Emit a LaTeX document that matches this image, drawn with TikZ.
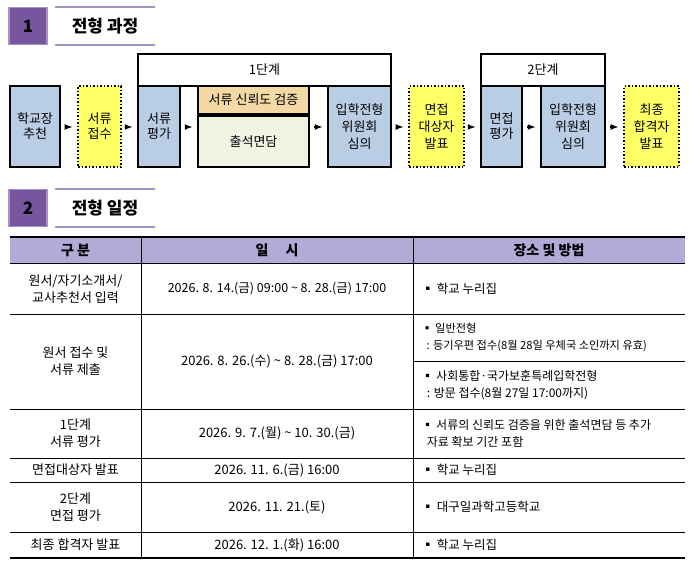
\documentclass[tikz,border=0pt]{standalone}
\usepackage{fontspec}
\setmainfont{Noto Sans CJK KR}
\usetikzlibrary{positioning}
\definecolor{boxblue}{HTML}{B9CDE5}
\definecolor{boxyellow}{HTML}{FFFF66}
\definecolor{boxorange}{HTML}{F4D9A4}
\definecolor{boxgreen}{HTML}{EEF3E2}
\definecolor{darkpurple}{HTML}{76569E}
\definecolor{lightpurple}{HTML}{A592C4}
\definecolor{headfill}{HTML}{B4AAD8}
\begin{document}
\begin{tikzpicture}[x=1pt, y=-1pt, font=\fontsize{13}{15}\selectfont,
    blockbox/.style={draw=black, line width=1.3pt, fill=boxblue, align=center, inner sep=0pt},
    notebox/.style={draw=black, dotted, line width=1.5pt, fill=boxyellow, align=center, inner sep=0pt},
    stagebox/.style={draw=black, line width=1.3pt, fill=white, inner sep=0pt},
    flowarrow/.style={-latex, line width=1.6pt}]
  \useasboundingbox (0,0) rectangle (690,565);
  % section 1
  \node[fill=darkpurple, draw=lightpurple, line width=1.5pt, minimum width=38pt, minimum height=37pt,
        font=\fontsize{17}{17}\selectfont\bfseries] (num1) at (28,26) {1};
  \draw[lightpurple, line width=1.5pt] (55,7) -- (155,7) (55,45) -- (155,45);
  \node[font=\fontsize{17}{17}\selectfont\bfseries] (title1) at (105,26) {전형 과정};
  % stages
  \node[stagebox, minimum width=253pt, minimum height=32pt] (stage1) at (264.5,70) {1단계};
  \node[stagebox, minimum width=124pt, minimum height=32pt] (stage2) at (543,70) {2단계};
  \node[blockbox, minimum width=50pt, minimum height=81pt] (rec) at (35,126.5) {학교장\\추천};
  \node[notebox, minimum width=43pt, minimum height=81pt] (recv) at (99.5,126.5) {서류\\접수};
  \node[blockbox, minimum width=42pt, minimum height=81pt] (doc) at (159,126.5) {서류\\평가};
  \node[blockbox, fill=boxorange, minimum width=111pt, minimum height=28pt] (check) at (253.5,100) {서류 신뢰도 검증};
  \node[blockbox, fill=boxgreen, minimum width=111pt, minimum height=51pt] (meet) at (253.5,141.5) {출석면담};
  \node[blockbox, minimum width=63pt, minimum height=81pt] (board1) at (359.5,126.5) {입학전형\\[2pt]위원회\\[2pt]심의};
  \node[notebox, minimum width=55pt, minimum height=81pt] (pass1) at (436.5,126.5) {면접\\[2pt]대상자\\[2pt]발표};
  \node[blockbox, minimum width=41pt, minimum height=81pt] (intv) at (501.5,126.5) {면접\\평가};
  \node[blockbox, minimum width=64pt, minimum height=81pt] (board2) at (573,126.5) {입학전형\\[2pt]위원회\\[2pt]심의};
  \node[notebox, minimum width=55pt, minimum height=81pt] (final) at (651.5,126.5) {최종\\[2pt]합격자\\[2pt]발표};
  \coordinate (rowmid) at (0,127);
  \foreach \a/\b in {rec/recv, recv/doc, doc/meet, meet/board1, board1/pass1, pass1/intv, intv/board2, board2/final}
    \draw[flowarrow] ([xshift=4pt]\a.east |- rowmid) -- ([xshift=-5pt]\b.west |- rowmid);
  % section 2
  \node[fill=darkpurple, draw=lightpurple, line width=1.5pt, minimum width=38pt, minimum height=37pt,
        font=\fontsize{17}{17}\selectfont\bfseries] (num2) at (28,208) {2};
  \draw[lightpurple, line width=1.5pt] (55,189) -- (155,189) (55,227) -- (155,227);
  \node[font=\fontsize{17}{17}\selectfont\bfseries] (title2) at (105,208) {전형 일정};
  % table
  \fill[headfill] (10,237) rectangle (685,264);
  \draw[line width=1.5pt] (10,237) -- (685,237) (10,558) -- (685,558);
  \draw[line width=0.6pt, double, double distance=1pt] (10,264) -- (685,264);
  \foreach \y in {314,409,458,482,532} \draw[line width=0.6pt] (10,\y) -- (685,\y);
  \draw[line width=0.6pt] (413,361) -- (685,361);
  \foreach \x in {141,413} \draw[line width=0.6pt] (\x,237) -- (\x,558);
  \node[font=\fontsize{14}{14}\selectfont\bfseries] (h1) at (75.5,250.5) {구 분};
  \node[font=\fontsize{14}{14}\selectfont\bfseries] (h2) at (277,250.5) {일 \quad 시};
  \node[font=\fontsize{14}{14}\selectfont\bfseries] (h3) at (549,250.5) {장소 및 방법};
  \tikzset{cell/.style={align=center, font=\fontsize{13}{17}\selectfont}, item/.style={anchor=west, align=left, font=\fontsize{12.5}{17}\selectfont}}
  \node[cell] (r1a) at (75.5,289) {원서/자기소개서/\\교사추천서 입력};
  \node[cell, font=\fontsize{12.5}{17}\selectfont] (r1b) at (277,289) {2026. 8. 14.(금) 09:00 \textasciitilde{} 8. 28.(금) 17:00};
  \node[item] (r1c) at (418,289) {▪ 학교 누리집};
  \node[cell] (r2a) at (75.5,361.5) {원서 접수 및\\서류 제출};
  \node[cell] (r2b) at (277,361.5) {2026. 8. 26.(수) \textasciitilde{} 8. 28.(금) 17:00};
  \node[item, font=\fontsize{11.2}{17}\selectfont] (r2c) at (418,337.5) {▪ 일반전형\\\ \ : 등기우편 접수(8월 28일 우체국 소인까지 유효)};
  \node[item, font=\fontsize{12}{17}\selectfont] (r2d) at (418,385) {▪ 사회통합·국가보훈특례입학전형\\\ \ : 방문 접수(8월 27일 17:00까지)};
  \node[cell] (r3a) at (75.5,433.5) {1단계\\서류 평가};
  \node[cell] (r3b) at (277,433.5) {2026. 9. 7.(월) \textasciitilde{} 10. 30.(금)};
  \node[item, font=\fontsize{12}{17}\selectfont] (r3c) at (418,433.5) {▪ 서류의 신뢰도 검증을 위한 출석면담 등 추가\\\ \ 자료 확보 기간 포함};
  \node[cell] (r4a) at (75.5,470) {면접대상자 발표};
  \node[cell] (r4b) at (277,470) {2026. 11. 6.(금) 16:00};
  \node[item] (r4c) at (418,470) {▪ 학교 누리집};
  \node[cell] (r5a) at (75.5,507) {2단계\\면접 평가};
  \node[cell] (r5b) at (277,507) {2026. 11. 21.(토)};
  \node[item] (r5c) at (418,507) {▪ 대구일과학고등학교};
  \node[cell] (r6a) at (75.5,545) {최종 합격자 발표};
  \node[cell] (r6b) at (277,545) {2026. 12. 1.(화) 16:00};
  \node[item] (r6c) at (418,545) {▪ 학교 누리집};
\end{tikzpicture}
\end{document}
